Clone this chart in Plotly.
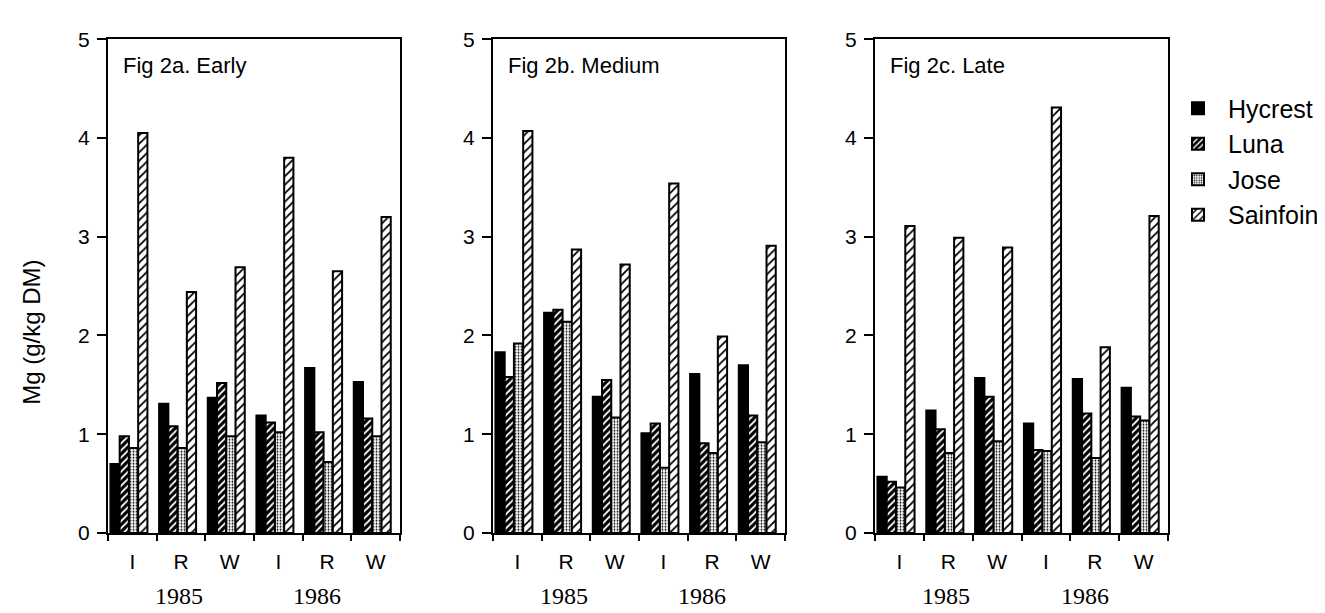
import plotly.graph_objects as go

# ---------------- data ----------------
groups = ["I85", "R85", "W85", "I86", "R86", "W86"]
group_labels = ["I", "R", "W", "I", "R", "W"]
year_labels = ["1985", "1986"]
series_names = ["Hycrest", "Luna", "Jose", "Sainfoin"]
panel_titles = ["Fig 2a. Early", "Fig 2b. Medium", "Fig 2c. Late"]
y_title = "Mg (g/kg DM)"
y_ticks = [0, 1, 2, 3, 4, 5]

early_hycrest = [0.70, 1.31, 1.37, 1.19, 1.67, 1.53]
early_luna = [0.98, 1.08, 1.52, 1.12, 1.02, 1.16]
early_jose = [0.86, 0.86, 0.98, 1.02, 0.72, 0.98]
early_sainfoin = [4.05, 2.44, 2.69, 3.80, 2.65, 3.20]

medium_hycrest = [1.83, 2.23, 1.38, 1.01, 1.61, 1.70]
medium_luna = [1.58, 2.26, 1.55, 1.11, 0.91, 1.19]
medium_jose = [1.92, 2.14, 1.17, 0.66, 0.81, 0.92]
medium_sainfoin = [4.07, 2.87, 2.72, 3.54, 1.99, 2.91]

late_hycrest = [0.57, 1.24, 1.57, 1.11, 1.56, 1.47]
late_luna = [0.52, 1.05, 1.38, 0.84, 1.21, 1.18]
late_jose = [0.46, 0.81, 0.93, 0.83, 0.76, 1.14]
late_sainfoin = [3.11, 2.99, 2.89, 4.31, 1.88, 3.21]

panels = [
    [early_hycrest, early_luna, early_jose, early_sainfoin],
    [medium_hycrest, medium_luna, medium_jose, medium_sainfoin],
    [late_hycrest, late_luna, late_jose, late_sainfoin],
]

# ---------------- styles ----------------
W, H = 1325, 613
x_domains = [(100, 392), (485, 777), (867, 1160)]
y_top, y_bottom = 20, 533
year_label_x = [0.95, 3.8]          # label placement along the category axis
FONT = "Liberation Sans, Arial, sans-serif"
SERIF = "Liberation Serif, Times New Roman, serif"

patterns = [
    dict(shape="", fillmode="replace"),
    dict(shape="/", fillmode="replace", fgcolor="white", bgcolor="black", size=5, solidity=0.35),
    dict(shape=".", fillmode="replace", fgcolor="black", bgcolor="white", size=3, solidity=0.3),
    dict(shape="/", fillmode="replace", fgcolor="black", bgcolor="white", size=6, solidity=0.3),
]
fill_colors = ["black", "black", "white", "white"]
bar_width = 0.19
bar_start = -0.45

fig = go.Figure()
annotations = []

for p, (vals, title) in enumerate(zip(panels, panel_titles)):
    xa = "x" if p == 0 else f"x{p+1}"
    ya = "y" if p == 0 else f"y{p+1}"
    for k, (name, v) in enumerate(zip(series_names, vals)):
        fig.add_trace(go.Bar(
            x=groups, y=v, name=name,
            xaxis=xa, yaxis=ya,
            width=bar_width, offset=bar_start + k * bar_width,
            marker=dict(color=fill_colors[k], pattern=patterns[k],
                        line=dict(color="black", width=2)),
            showlegend=(p == 0),
            legendgroup=name,
        ))
    d0, d1 = x_domains[p]
    xkey = "xaxis" if p == 0 else f"xaxis{p+1}"
    ykey = "yaxis" if p == 0 else f"yaxis{p+1}"
    fig.update_layout(**{
        xkey: dict(
            domain=[d0 / W, d1 / W], anchor=ya, type="category",
            categoryorder="array", categoryarray=groups,
            range=[-0.5, 5.5], tickmode="array", tickvals=groups, ticktext=group_labels,
            tickson="boundaries", ticks="outside", ticklen=6, tickwidth=1.5, tickcolor="black",
            showline=True, linecolor="black", linewidth=2, mirror=True,
            showgrid=False, zeroline=False,
            tickfont=dict(family=FONT, size=21, color="black"),
            ticklabelstandoff=9,
        ),
        ykey: dict(
            domain=[1 - y_bottom / H, 1 - y_top / H], anchor=xa,
            range=[0, 5], tickvals=y_ticks,
            ticks="outside", ticklen=9, tickwidth=1.5, tickcolor="black",
            showline=True, linecolor="black", linewidth=2, mirror=True,
            showgrid=False, zeroline=False,
            tickfont=dict(family=FONT, size=21, color="black"),
            ticklabelstandoff=3,
        ),
    })
    annotations.append(dict(
        text=title, xref=f"{xa} domain", yref=f"{ya} domain",
        x=0.045, y=(y_bottom - 47) / (y_bottom - y_top), xanchor="left", yanchor="middle",
        showarrow=False,
        font=dict(family=FONT, size=22, color="black"),
    ))
    for yl, yx in zip(year_labels, year_label_x):
        annotations.append(dict(
            text=yl, xref=xa, yref=f"{ya} domain",
            x=yx, y=-0.127, xanchor="center", yanchor="middle", showarrow=False,
            font=dict(family=SERIF, size=24, color="black"),
        ))

annotations.append(dict(
    text=y_title, xref="paper", yref="paper",
    x=24 / W, y=1 - 325 / H, xanchor="center", yanchor="middle",
    textangle=-90, showarrow=False,
    font=dict(family=FONT, size=24, color="black"),
))

fig.update_layout(
    width=W, height=H,
    margin=dict(l=0, r=0, t=0, b=0),
    paper_bgcolor="white", plot_bgcolor="white",
    barmode="overlay",
    annotations=annotations,
    legend=dict(x=1160 / W, y=1 - 68 / H, xanchor="left", yanchor="top",
                font=dict(family=FONT, size=25, color="black"),
                tracegroupgap=0, itemwidth=50, bgcolor="rgba(0,0,0,0)"),
)

fig.write_html("out.html")
